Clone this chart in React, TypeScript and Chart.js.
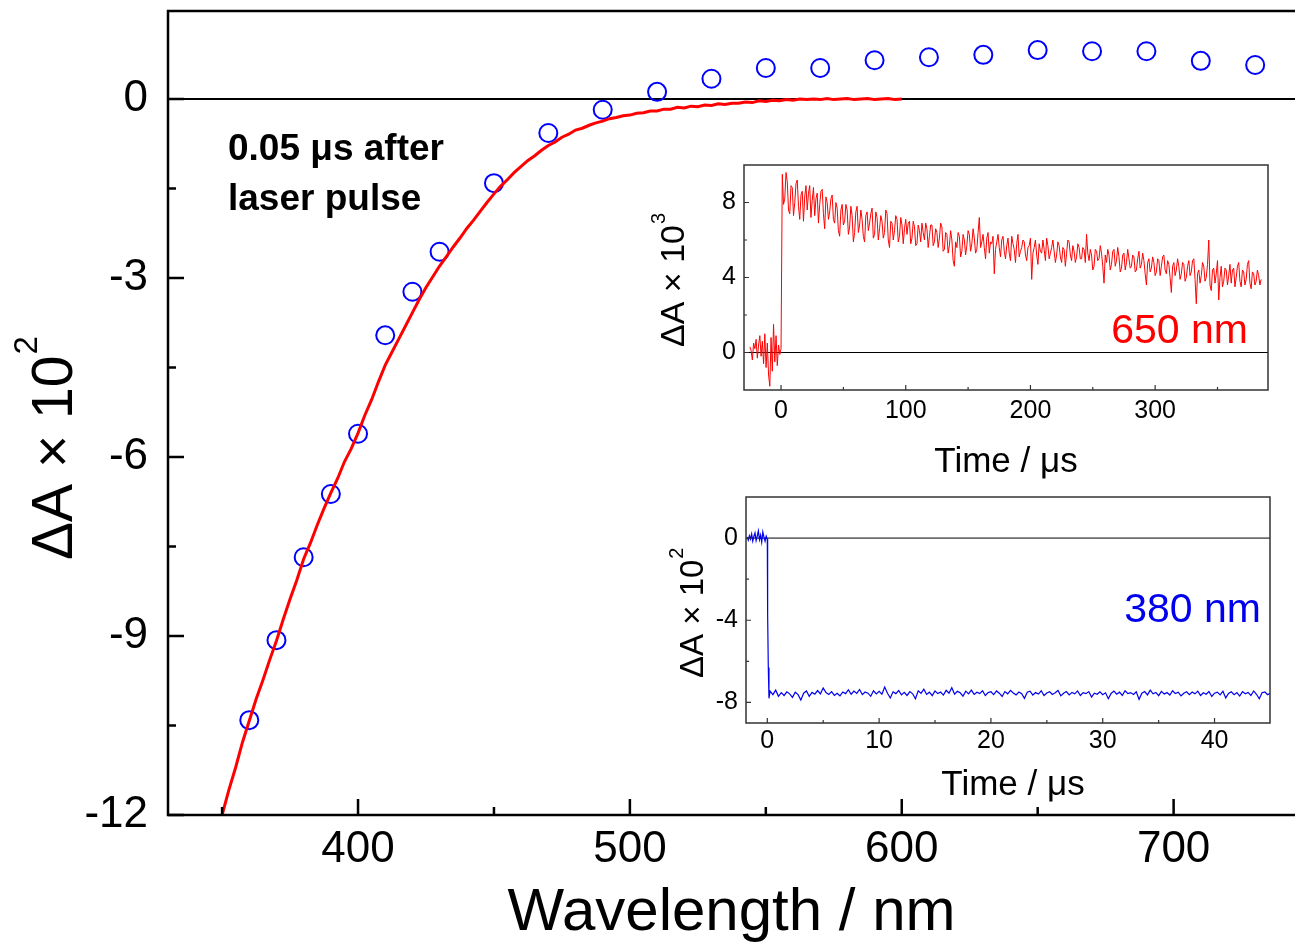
import React, { useEffect, useRef } from "react";
import { Chart, registerables } from "chart.js";

Chart.register(...registerables);

const FONT = "'Liberation Sans', Arial, Helvetica, sans-serif";

// ---------------- main panel: transient spectrum 0.05 µs after pulse ----------------
const probeWavelengths = [360, 370, 380, 390, 400, 410, 420, 430, 450, 470, 490, 510, 530, 550, 570, 590, 610, 630, 650, 670, 690, 710, 730];
const probeDeltaA = [-10.41, -9.07, -7.68, -6.62, -5.61, -3.96, -3.23, -2.56, -1.41, -0.57, -0.18, 0.12, 0.34, 0.52, 0.52, 0.65, 0.7, 0.74, 0.82, 0.8, 0.8, 0.64, 0.57];

const fitStartNm = 350;
const fitStepNm = 2.5;
const fitDeltaA = [
  -12.0, -11.58, -11.2, -10.78, -10.42, -10.06, -9.74, -9.4, -9.08, -8.72,
  -8.38, -8.06, -7.71, -7.44, -7.14, -6.86, -6.6, -6.36, -6.08, -5.86,
  -5.6, -5.3, -5.04, -4.74, -4.46, -4.24, -4.02, -3.8, -3.58, -3.36,
  -3.16, -2.98, -2.8, -2.64, -2.48, -2.33, -2.17, -2.03, -1.88, -1.73,
  -1.59, -1.46, -1.35, -1.23, -1.13, -1.03, -0.95, -0.86, -0.78, -0.72,
  -0.64, -0.59, -0.52, -0.49, -0.44, -0.4, -0.37, -0.33, -0.31, -0.28,
  -0.27, -0.24, -0.23, -0.2, -0.2, -0.17, -0.17, -0.14, -0.15, -0.12,
  -0.13, -0.1, -0.11, -0.08, -0.09, -0.07, -0.07, -0.05, -0.06, -0.03,
  -0.04, -0.02, -0.03, -0.01, -0.02, 0.0, -0.01, 0.0, -0.01, 0.01,
  -0.01, 0.0, 0.01, -0.01, 0.0, 0.01, -0.01, 0.0, 0.01, -0.01,
  0.0,
];

const mainXTicks = [400, 500, 600, 700];
const mainXMinorTicks = [350, 450, 550, 650];
const mainYTicks = [-12, -9, -6, -3, 0];
const mainYMinorTicks = [-10.5, -7.5, -4.5, -1.5];

// ---------------- inset: kinetic trace at 650 nm ----------------
const trace650PreStart = -25;
const trace650PreStep = 1;
const trace650Pre = [
  0.3, 0.1, -0.4, 0.5, 0.2, 0.7, -0.3, 0.4, 0.9, -0.2,
  0.6, -0.6, 1.0, -0.8, 0.5, -1.2, -1.8, 0.8, -1.0, 1.5,
  -0.5, 0.9, -0.7, 0.4, -0.1, 0.2,
];
const trace650PostStart = 1;
const trace650PostStep = 1;
const trace650Post = [
  9.5, 7.9, 8.2, 9.6, 9.1, 7.6, 7.4, 8.9, 8.8, 7.3, 8.0, 9.0, 9.2, 7.8, 7.1, 8.4, 8.6, 7.0, 8.3, 8.9,
  7.6, 8.5, 8.9, 7.2, 8.1, 8.8, 7.3, 8.2, 8.5, 6.9, 7.9, 8.6, 8.7, 7.4, 6.6, 8.3, 8.0, 7.1, 7.5, 8.2,
  8.4, 7.1, 6.9, 8.0, 7.7, 6.5, 6.2, 7.6, 7.9, 6.8, 7.0, 7.9, 7.6, 6.3, 6.7, 7.8, 7.3, 5.9, 6.4, 7.5,
  7.8, 6.4, 6.8, 7.6, 7.1, 6.2, 5.9, 7.3, 7.5, 6.5, 6.9, 7.4, 7.7, 6.1, 6.3, 7.5, 7.2, 6.0, 6.6, 7.3,
  7.0, 6.1, 6.4, 7.6, 7.4, 6.0, 5.6, 7.0, 6.9, 6.0, 6.5, 7.3, 7.1, 5.9, 6.2, 7.2, 6.8, 5.8, 6.6, 7.1,
  6.3, 6.9, 7.0, 5.8, 6.1, 7.0, 6.7, 5.7, 5.8, 6.8, 6.5, 5.9, 6.9, 6.4, 6.0, 6.9, 6.6, 5.6, 6.2, 6.8,
  6.8, 5.7, 5.9, 6.6, 6.4, 5.6, 6.1, 6.9, 6.7, 5.4, 5.5, 6.4, 6.3, 5.3, 5.7, 6.5, 6.0, 4.9, 4.6, 5.9,
  5.6, 6.4, 6.2, 5.1, 5.4, 6.3, 6.0, 5.2, 5.7, 6.5, 6.3, 5.4, 5.8, 6.6, 6.1, 5.3, 5.5, 6.4, 7.2, 5.6,
  5.9, 6.3, 5.6, 5.0, 6.1, 6.4, 5.3, 5.9, 5.8, 6.2, 4.2, 5.5, 5.9, 6.3, 5.6, 5.1, 6.0, 6.2, 5.4, 5.0,
  5.7, 6.1, 5.3, 4.9, 6.2, 5.8, 5.5, 4.8, 5.8, 6.3, 5.1, 5.4, 5.6, 6.0, 5.9, 5.2, 4.9, 5.6, 5.7, 6.1,
  3.9, 5.3, 5.6, 6.0, 5.2, 4.7, 5.8, 5.4, 5.3, 6.0, 5.5, 4.9, 6.1, 5.7, 5.0, 5.3, 5.6, 6.0, 5.4, 4.8,
  5.2, 5.9, 5.7, 5.1, 4.8, 5.6, 5.5, 4.6, 5.3, 6.0, 5.9, 5.2, 4.9, 5.7, 5.4, 4.8, 5.1, 5.8, 5.6, 5.0,
  5.0, 5.6, 5.5, 4.8, 6.3, 5.3, 4.9, 5.5, 5.2, 4.4, 4.6, 5.5, 5.4, 4.9, 5.0, 5.7, 5.3, 4.6, 3.7, 5.2,
  4.8, 5.5, 5.2, 4.4, 4.7, 5.4, 5.5, 4.6, 4.9, 5.6, 5.1, 4.3, 4.5, 5.2, 5.3, 4.4, 4.8, 5.5, 5.0, 4.5,
  4.6, 5.2, 5.1, 4.3, 4.4, 5.0, 5.4, 4.5, 4.7, 5.3, 4.9, 4.2, 3.6, 4.8, 5.0, 4.3, 4.5, 5.1, 4.8, 4.1,
  4.3, 5.0, 4.9, 4.1, 4.6, 5.1, 5.2, 4.4, 4.2, 4.9, 4.7, 4.0, 3.2, 4.6, 4.8, 4.1, 4.4, 5.0, 4.6, 3.9,
  4.2, 4.8, 4.7, 3.8, 4.0, 4.6, 4.9, 4.1, 4.3, 4.9, 5.0, 3.9, 2.6, 4.2, 4.4, 3.7, 4.1, 4.8, 4.6, 3.8,
  4.0, 4.7, 6.0, 3.6, 3.3, 4.4, 4.5, 3.7, 4.2, 4.9, 2.8, 4.0, 4.6, 3.5, 3.8, 4.5, 4.4, 3.6, 4.1, 4.7,
  3.7, 4.4, 4.5, 3.5, 4.0, 4.6, 4.8, 3.8, 3.5, 4.4, 4.3, 3.6, 3.9, 4.7, 4.9, 3.7, 3.4, 4.3, 4.2, 3.6,
  3.8, 4.4, 4.1, 3.6, 3.9,
];
const inset650XTicks = [0, 100, 200, 300];
const inset650XMinorTicks = [50, 150, 250, 350];
const inset650YTicks = [0, 4, 8];
const inset650YMinorTicks = [2, 6];

// ---------------- inset: kinetic trace at 380 nm ----------------
const trace380PreStart = -1.8;
const trace380PreStep = 0.1;
const trace380Pre = [0.05, -0.1, 0.12, -0.05, 0.2, -0.15, 0.08, 0.25, -0.12, 0.1, 0.35, -0.08, 0.15, -0.2, 0.3, 0.05, -0.15, 0.1, -0.05];
const trace380DropTimes = [0.03, 0.09, 0.15];
const trace380DropValues = [-3.7, -6.3, -7.8];
const trace380PostStart = 0.25;
const trace380PostStep = 0.25;
const trace380Post = [
  -7.45, -7.62, -7.4, -7.7, -7.52, -7.66, -7.48, -7.58, -7.75, -7.5,
  -7.62, -7.88, -7.55, -7.44, -7.7, -7.51, -7.6, -7.42, -7.58, -7.3,
  -7.52, -7.61, -7.47, -7.66, -7.55, -7.68, -7.49, -7.57, -7.38, -7.6,
  -7.45, -7.56, -7.37, -7.62, -7.49, -7.55, -7.7, -7.43, -7.58, -7.46,
  -7.6, -7.25, -7.55, -7.78, -7.48, -7.57, -7.42, -7.63, -7.51, -7.66,
  -7.47, -7.58, -7.82, -7.43, -7.56, -7.35, -7.61, -7.5, -7.67, -7.44,
  -7.57, -7.49, -7.64, -7.41, -7.55, -7.28, -7.6, -7.46, -7.53, -7.69,
  -7.45, -7.58, -7.4, -7.61, -7.5, -7.57, -7.43, -7.66, -7.52, -7.48,
  -7.62, -7.44, -7.55, -7.71, -7.47, -7.58, -7.41, -7.54, -7.63, -7.49,
  -7.57, -7.8, -7.5, -7.45, -7.64, -7.52, -7.59, -7.43, -7.66, -7.54,
  -7.48, -7.61, -7.53, -7.42, -7.68, -7.55, -7.47, -7.63, -7.51, -7.58,
  -7.44, -7.66, -7.52, -7.57, -7.47, -7.74, -7.55, -7.6, -7.48, -7.62,
  -7.53, -7.82, -7.56, -7.45, -7.6, -7.5, -7.66, -7.43, -7.57, -7.52,
  -7.61, -7.48, -7.85, -7.55, -7.47, -7.63, -7.4, -7.58, -7.51, -7.67,
  -7.46, -7.59, -7.52, -7.64, -7.43, -7.57, -7.5, -7.68, -7.55, -7.48,
  -7.62, -7.49, -7.58, -7.45, -7.66, -7.53, -7.6, -7.47, -7.71, -7.55,
  -7.5, -7.63, -7.45, -7.78, -7.56, -7.48, -7.62, -7.52, -7.69, -7.47,
  -7.58, -7.51, -7.66, -7.44, -7.6, -7.82, -7.53, -7.49, -7.62, -7.55,
];
const inset380XTicks = [0, 10, 20, 30, 40];
const inset380XMinorTicks = [5, 15, 25, 35];
const inset380YTicks = [-8, -4, 0];
const inset380YMinorTicks = [-6, -2];

// ---------------- helpers ----------------
function regular(start: number, step: number, values: number[]) {
  return values.map((y, i) => ({ x: start + i * step, y }));
}

function linearAxis(min: number, max: number, ticks: number[], size: number, padding: number, fitKey: "width" | "height", fitValue: number) {
  return {
    type: "linear",
    min,
    max,
    grid: { display: false, drawTicks: false },
    border: { display: false },
    ticks: {
      color: "#000",
      font: { family: FONT, size, lineHeight: 1 },
      padding,
      autoSkip: false,
      maxRotation: 0,
      minRotation: 0,
      callback: (v: number) => String(v),
    },
    afterBuildTicks: (scale: any) => {
      scale.ticks = ticks.map((value) => ({ value }));
    },
    afterFit: (scale: any) => {
      scale[fitKey] = fitValue;
      scale.paddingTop = 0;
      scale.paddingBottom = 0;
      scale.paddingLeft = 0;
      scale.paddingRight = 0;
    },
  };
}

function rotatedTitle(ctx: CanvasRenderingContext2D, x: number, y: number, main: string, sup: string, size: number, supSize: number, supRaise: number, color: string) {
  ctx.save();
  ctx.translate(x, y);
  ctx.rotate(-Math.PI / 2);
  ctx.fillStyle = color;
  ctx.textAlign = "left";
  ctx.textBaseline = "alphabetic";
  ctx.font = `${size}px ${FONT}`;
  ctx.fillText(main, 0, 0);
  const w = ctx.measureText(main).width;
  ctx.font = `${supSize}px ${FONT}`;
  ctx.fillText(sup, w + 1, -supRaise);
  ctx.restore();
}

type Decor = {
  frame: string[];
  frameWidth: number;
  frameColor: string;
  zeroWidth: number;
  xMajor: number[];
  xMinor: number[];
  yMajor: number[];
  yMinor: number[];
  majorLen: number;
  minorLen: number;
  tickWidth: number;
  offX: number;
  offY: number;
  texts: (ctx: CanvasRenderingContext2D, area: any) => void;
};

function decorPlugin(d: Decor) {
  return {
    id: "decor",
    beforeDatasetsDraw(chart: any) {
      const { ctx, chartArea: a, scales } = chart;
      const py = scales.y.getPixelForValue(0);
      ctx.save();
      ctx.strokeStyle = "#000";
      ctx.lineWidth = d.zeroWidth;
      ctx.beginPath();
      ctx.moveTo(a.left, py);
      ctx.lineTo(a.right, py);
      ctx.stroke();
      ctx.restore();
    },
    afterDatasetsDraw(chart: any) {
      const { ctx, chartArea: a, scales } = chart;
      ctx.save();
      ctx.strokeStyle = d.frameColor;
      ctx.lineWidth = d.frameWidth;
      ctx.lineCap = "square";
      ctx.beginPath();
      if (d.frame.includes("top")) { ctx.moveTo(a.left, a.top); ctx.lineTo(a.right, a.top); }
      if (d.frame.includes("bottom")) { ctx.moveTo(a.left, a.bottom); ctx.lineTo(a.right, a.bottom); }
      if (d.frame.includes("left")) { ctx.moveTo(a.left, a.top); ctx.lineTo(a.left, a.bottom); }
      if (d.frame.includes("right")) { ctx.moveTo(a.right, a.top); ctx.lineTo(a.right, a.bottom); }
      ctx.stroke();
      ctx.lineCap = "butt";
      ctx.lineWidth = d.tickWidth;
      ctx.beginPath();
      const xTick = (v: number, len: number) => {
        const px = scales.x.getPixelForValue(v);
        ctx.moveTo(px, a.bottom);
        ctx.lineTo(px, a.bottom - len);
      };
      const yTick = (v: number, len: number) => {
        const py = scales.y.getPixelForValue(v);
        ctx.moveTo(a.left, py);
        ctx.lineTo(a.left + len, py);
      };
      d.xMajor.forEach((v) => xTick(v, d.majorLen));
      d.xMinor.forEach((v) => xTick(v, d.minorLen));
      d.yMajor.forEach((v) => yTick(v, d.majorLen));
      d.yMinor.forEach((v) => yTick(v, d.minorLen));
      ctx.stroke();
      ctx.restore();
    },
    afterDraw(chart: any) {
      const ctx = chart.ctx;
      ctx.save();
      ctx.translate(-d.offX, -d.offY);
      d.texts(ctx, chart.chartArea);
      ctx.restore();
    },
  };
}

const baseOptions = {
  animation: false,
  responsive: false,
  devicePixelRatio: 1,
  events: [],
  plugins: { legend: { display: false }, tooltip: { enabled: false } },
};

export default function App() {
  const mainRef = useRef<HTMLCanvasElement>(null);
  const inset650Ref = useRef<HTMLCanvasElement>(null);
  const inset380Ref = useRef<HTMLCanvasElement>(null);

  useEffect(() => {
    const charts: Chart[] = [];

    // main chart
    charts.push(
      new Chart(mainRef.current!, {
        type: "scatter",
        data: {
          datasets: [
            {
              data: regular(fitStartNm, fitStepNm, fitDeltaA),
              showLine: true,
              borderColor: "#ff0000",
              borderWidth: 3,
              pointRadius: 0,
              tension: 0,
              fill: false,
            },
            {
              data: probeWavelengths.map((x, i) => ({ x, y: probeDeltaA[i] })),
              showLine: false,
              pointStyle: "circle",
              pointRadius: 9,
              pointHoverRadius: 9,
              borderColor: "#0000ff",
              backgroundColor: "rgba(0,0,0,0)",
              pointBorderColor: "#0000ff",
              pointBackgroundColor: "rgba(0,0,0,0)",
              borderWidth: 2,
              pointBorderWidth: 2,
            },
          ],
        },
        options: {
          ...baseOptions,
          layout: { autoPadding: false, padding: { top: 11, left: 0, right: 0, bottom: 0 } },
          scales: {
            x: linearAxis(330.1, 744.65, mainXTicks, 44, 13, "height", 128),
            y: linearAxis(-12, 1.475, mainYTicks, 44, 20, "width", 168),
          },
        } as any,
        plugins: [
          decorPlugin({
            frame: ["top", "left", "bottom"],
            frameWidth: 2.5,
            frameColor: "#000",
            zeroWidth: 2,
            xMajor: mainXTicks,
            xMinor: mainXMinorTicks,
            yMajor: mainYTicks,
            yMinor: mainYMinorTicks,
            majorLen: 16,
            minorLen: 8,
            tickWidth: 2.5,
            offX: 0,
            offY: 0,
            texts: (ctx, area) => {
              ctx.fillStyle = "#000";
              ctx.textAlign = "left";
              ctx.textBaseline = "alphabetic";
              ctx.font = `bold 37px ${FONT}`;
              ctx.fillText("0.05 μs after", 228, 160);
              ctx.fillText("laser pulse", 228, 210);
              ctx.font = `60px ${FONT}`;
              ctx.textAlign = "center";
              ctx.fillText("Wavelength / nm", (area.left + area.right) / 2, 930);
              rotatedTitle(ctx, 72, 560, "ΔA × 10", "2", 57, 33, 35, "#000");
            },
          }),
        ],
      })
    );

    // inset 650 nm
    charts.push(
      new Chart(inset650Ref.current!, {
        type: "scatter",
        data: {
          datasets: [
            {
              data: [
                ...regular(trace650PreStart, trace650PreStep, trace650Pre),
                ...regular(trace650PostStart, trace650PostStep, trace650Post),
              ],
              showLine: true,
              borderColor: "#ff0000",
              borderWidth: 1,
              pointRadius: 0,
              tension: 0,
              fill: false,
            },
          ],
        },
        options: {
          ...baseOptions,
          layout: { autoPadding: false, padding: { top: 5, left: 0, right: 22, bottom: 0 } },
          scales: {
            x: linearAxis(-29.7, 390.5, inset650XTicks, 25, 9, "height", 100),
            y: linearAxis(-2, 10, inset650YTicks, 25, 8, "width", 114),
          },
        } as any,
        plugins: [
          decorPlugin({
            frame: ["top", "left", "bottom", "right"],
            frameWidth: 1.5,
            frameColor: "#333",
            zeroWidth: 1,
            xMajor: inset650XTicks,
            xMinor: inset650XMinorTicks,
            yMajor: inset650YTicks,
            yMinor: inset650YMinorTicks,
            majorLen: 5,
            minorLen: 3,
            tickWidth: 1.2,
            offX: 630,
            offY: 160,
            texts: (ctx, area) => {
              ctx.fillStyle = "#ff0000";
              ctx.textBaseline = "alphabetic";
              ctx.textAlign = "right";
              ctx.font = `41px ${FONT}`;
              ctx.fillText("650 nm", 1248, 343);
              ctx.fillStyle = "#000";
              ctx.textAlign = "center";
              ctx.font = `35px ${FONT}`;
              ctx.fillText("Time / μs", 1006, 472);
              rotatedTitle(ctx, 684, 347, "ΔA × 10", "3", 34, 20, 19, "#000");
            },
          }),
        ],
      })
    );

    // inset 380 nm
    charts.push(
      new Chart(inset380Ref.current!, {
        type: "scatter",
        data: {
          datasets: [
            {
              data: [
                ...regular(trace380PreStart, trace380PreStep, trace380Pre),
                ...trace380DropTimes.map((x, i) => ({ x, y: trace380DropValues[i] })),
                ...regular(trace380PostStart, trace380PostStep, trace380Post),
              ],
              showLine: true,
              borderColor: "#0000ee",
              borderWidth: 1.2,
              pointRadius: 0,
              tension: 0,
              fill: false,
            },
          ],
        },
        options: {
          ...baseOptions,
          layout: { autoPadding: false, padding: { top: 7, left: 0, right: 20, bottom: 0 } },
          scales: {
            x: linearAxis(-1.905, 44.96, inset380XTicks, 25, 6, "height", 87),
            y: linearAxis(-9, 2, inset380YTicks, 25, 8, "width", 106),
          },
        } as any,
        plugins: [
          decorPlugin({
            frame: ["top", "left", "bottom", "right"],
            frameWidth: 1.5,
            frameColor: "#333",
            zeroWidth: 1,
            xMajor: inset380XTicks,
            xMinor: inset380XMinorTicks,
            yMajor: inset380YTicks,
            yMinor: inset380YMinorTicks,
            majorLen: 5,
            minorLen: 3,
            tickWidth: 1.2,
            offX: 640,
            offY: 490,
            texts: (ctx, area) => {
              ctx.fillStyle = "#0000ee";
              ctx.textBaseline = "alphabetic";
              ctx.textAlign = "right";
              ctx.font = `41px ${FONT}`;
              ctx.fillText("380 nm", 1261, 622);
              ctx.fillStyle = "#000";
              ctx.textAlign = "center";
              ctx.font = `35px ${FONT}`;
              ctx.fillText("Time / μs", 1013, 795);
              rotatedTitle(ctx, 703, 678, "ΔA × 10", "2", 33, 20, 20, "#000");
            },
          }),
        ],
      })
    );

    return () => {
      charts.forEach((c) => c.destroy());
    };
  }, []);

  return (
    <div style={{ position: "fixed", left: 0, top: 0, width: 1295, height: 943, background: "#fff", overflow: "hidden" }}>
      <canvas ref={mainRef} width={1295} height={943} style={{ position: "absolute", left: 0, top: 0, width: 1295, height: 943 }} />
      <canvas ref={inset650Ref} width={660} height={330} style={{ position: "absolute", left: 630, top: 160, width: 660, height: 330 }} />
      <canvas ref={inset380Ref} width={650} height={320} style={{ position: "absolute", left: 640, top: 490, width: 650, height: 320 }} />
    </div>
  );
}
